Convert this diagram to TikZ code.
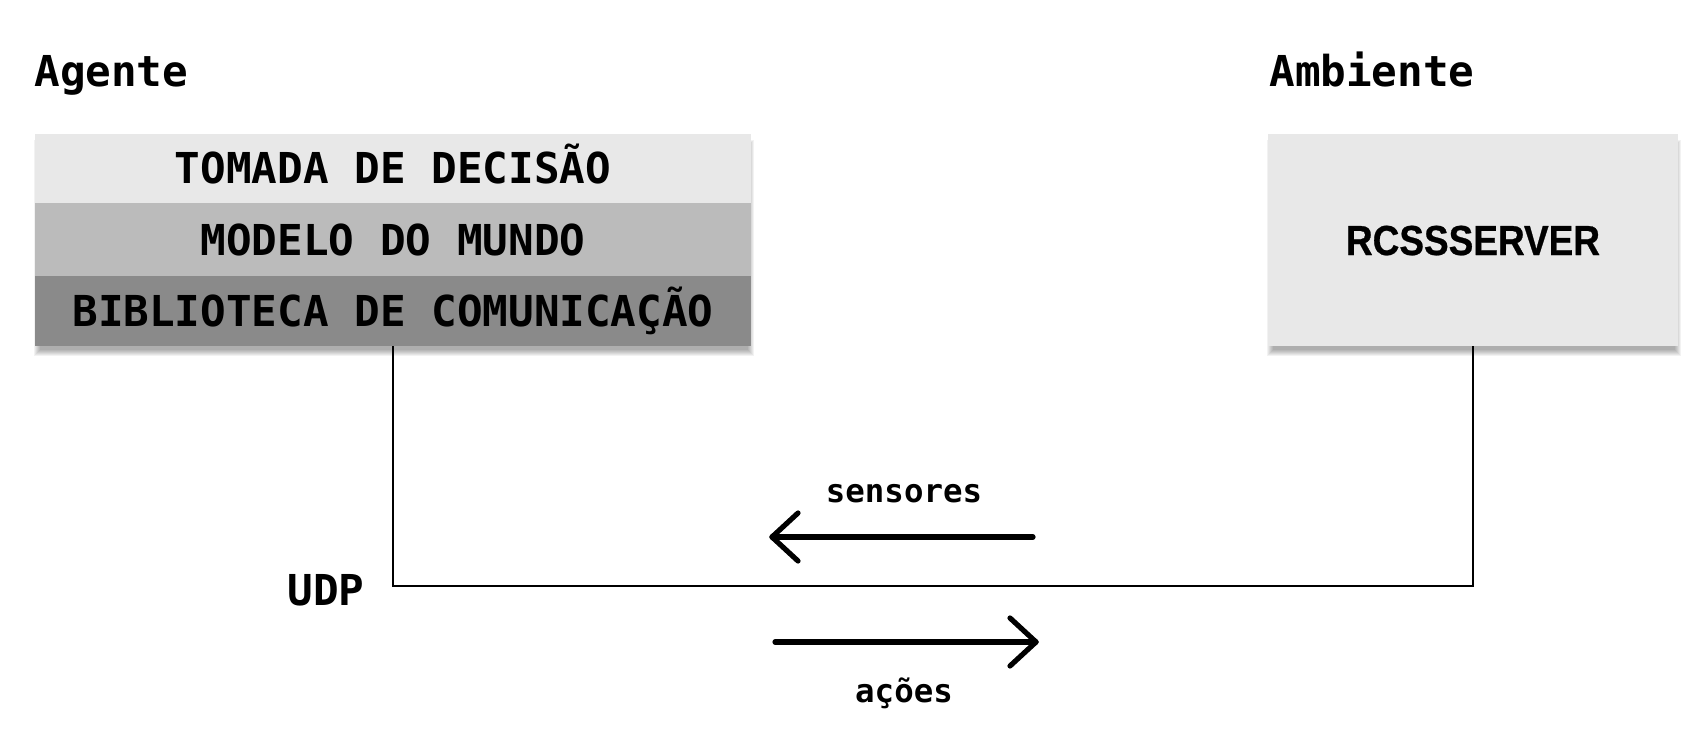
\documentclass[tikz,border=0pt]{standalone}
\usepackage{fontspec}
\newfontfamily\monofnt{DejaVu Sans Mono}
\newfontfamily\srvfnt[FakeStretch=0.88,FakeBold=0.6]{Liberation Sans Bold}
\definecolor{rowA}{HTML}{E8E8E8}
\definecolor{rowB}{HTML}{BBBBBB}
\definecolor{rowC}{HTML}{8A8A8A}
\tikzset{
  bigtxt/.style={font=\monofnt\bfseries\fontsize{21.3}{24}\selectfont, inner sep=0pt},
  smalltxt/.style={font=\monofnt\bfseries\fontsize{16.2}{19}\selectfont, inner sep=0pt},
  layer/.style={bigtxt, minimum width=358pt, text height=15.5pt, text depth=0pt, outer sep=0pt},
  wire/.style={line width=1pt, black},
  flow/.style={line width=2.6pt, black, line cap=round, line join=round},
}
\begin{document}
\begin{tikzpicture}[x=0.5pt,y=-0.5pt]
\useasboundingbox (0,0) rectangle (1708,738);
\fill[white] (0,0) rectangle (1708,738);
% shadows
\foreach \i in {0,...,6}{
  \fill[black,opacity=0.05] ({35+\i-1},{140+\i}) rectangle ({751-\i+3},{356-\i});
  \fill[black,opacity=0.05] ({1268+\i-1},{140+\i}) rectangle ({1678-\i+3},{356-\i});
}
% titles
\node[bigtxt, anchor=base west] (agente) at (34,87) {Agente};
\node[bigtxt, anchor=base west] (ambiente) at (1269,87) {Ambiente};
% agent stack
\node[layer, fill=rowA, minimum height=34.5pt] (dec) at (393,168.5) {TOMADA DE DECISÃO};
\node[layer, fill=rowB, minimum height=36.5pt] (mod) at (393,239.5) {MODELO DO MUNDO};
\node[layer, fill=rowC, minimum height=35pt] (lib) at (393,311) {BIBLIOTECA DE COMUNICAÇÃO};
% server
\node[fill=rowA, minimum width=205pt, minimum height=106pt, inner sep=0pt, outer sep=0pt,
      font=\srvfnt\fontsize{21}{24}\selectfont, text height=15pt, text depth=0pt] (srv) at (1473,240) {RCSSSERVER};
% bus
\coordinate (busL) at (393,586);
\draw[wire] (lib.south) -- (busL) -| (srv.south);
\node[bigtxt, anchor=base west] (udp) at (287,605) {UDP};
% flows
\coordinate (sTail) at (1033,537);
\coordinate (sTip) at (772,537);
\coordinate (aTail) at (775,642);
\coordinate (aTip) at (1036,642);
\draw[flow] (sTail) -- (sTip);
\draw[flow] ([shift={(26,-24)}]sTip) -- (sTip) -- ([shift={(26,24)}]sTip);
\draw[flow] (aTail) -- (aTip);
\draw[flow] ([shift={(-26,-24)}]aTip) -- (aTip) -- ([shift={(-26,24)}]aTip);
\node[smalltxt, anchor=base] (sens) at (904,502) {sensores};
\node[smalltxt, anchor=base] (acoes) at (904,702) {ações};
\end{tikzpicture}
\end{document}
